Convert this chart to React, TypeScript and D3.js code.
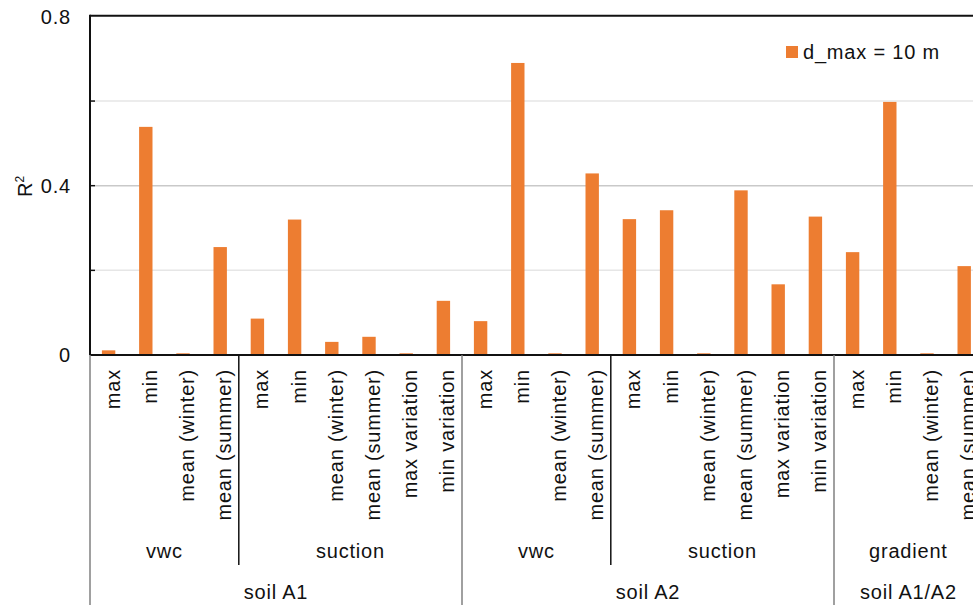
import React from "react";
import * as d3 from "d3";

const categories = [
  "max", "min", "mean (winter)", "mean (summer)",
  "max", "min", "mean (winter)", "mean (summer)", "max variation", "min variation",
  "max", "min", "mean (winter)", "mean (summer)",
  "max", "min", "mean (winter)", "mean (summer)", "max variation", "min variation",
  "max", "min", "mean (winter)", "mean (summer)",
];
const values = [
  0.011, 0.539, 0.004, 0.255,
  0.086, 0.320, 0.031, 0.043, 0.004, 0.128,
  0.080, 0.690, 0.004, 0.429,
  0.321, 0.342, 0.004, 0.389, 0.167, 0.327,
  0.243, 0.598, 0.004, 0.210,
];
const subGroups = [
  { label: "vwc", start: 0, end: 4 },
  { label: "suction", start: 4, end: 10 },
  { label: "vwc", start: 10, end: 14 },
  { label: "suction", start: 14, end: 20 },
  { label: "gradient", start: 20, end: 24 },
];
const mainGroups = [
  { label: "soil A1", start: 0, end: 10 },
  { label: "soil A2", start: 10, end: 20 },
  { label: "soil A1/A2", start: 20, end: 24 },
];
const yTicks = [0, 0.4, 0.8];
const yMinor = [0.2, 0.6];
const seriesName = "d_max = 10 m";

const W = 973;
const H = 605;
const left = 90;
const step = 37.2;
const right = left + step * categories.length;
const top = 16.4;
const bottom = 355;
const font = "'Liberation Sans', Arial, sans-serif";
const orange = "#ED7D31";
const txt: React.CSSProperties = { letterSpacing: "0.8px", fontFamily: font, fontSize: "20px" };

export default function App() {
  const x = d3
    .scaleBand<number>()
    .domain(d3.range(categories.length))
    .range([left, right])
    .paddingInner(0.64)
    .paddingOuter(0.32);
  const y = d3.scaleLinear().domain([0, 0.8]).range([bottom, top]);
  const edge = (i: number) => left + (i * (right - left)) / categories.length;

  return (
    <svg
      width={W}
      height={H}
      style={{ position: "absolute", left: 0, top: 0, background: "#fff" }}
      fontFamily={font}
    >
      {yMinor.map((t) => (
        <line key={"m" + t} x1={left + 5} x2={right} y1={y(t)} y2={y(t)} stroke="#e6e6e6" strokeWidth={1.5} />
      ))}
      <line x1={left + 5} x2={right} y1={y(0.4)} y2={y(0.4)} stroke="#c9c9c9" strokeWidth={1.5} />
      {values.map((v, i) => (
        <rect
          key={i}
          x={x(i)!}
          y={y(v)}
          width={x.bandwidth()}
          height={bottom - y(v)}
          fill={orange}
        />
      ))}
      <line x1={left} x2={right} y1={top - 0.7} y2={top - 0.7} stroke="#111" strokeWidth={2} />
      <line x1={left} x2={left} y1={top - 1.7} y2={bottom} stroke="#111" strokeWidth={2} />
      <line x1={left} x2={right} y1={bottom} y2={bottom} stroke="#111" strokeWidth={2} />
      {[0.2, 0.4, 0.6].map((t) => (
        <line key={"t" + t} x1={left} x2={left + 5} y1={y(t)} y2={y(t)} stroke="#111" strokeWidth={1.5} />
      ))}
      {yTicks.map((t) => (
        <text key={"l" + t} x={71} y={y(t) + 7.2} textAnchor="end" style={txt} fill="#111">
          {t === 0 ? "0" : t.toFixed(1)}
        </text>
      ))}
      <text transform={`translate(32,197) rotate(-90)`} style={{ ...txt, letterSpacing: "0px" }} fill="#111">
        R
        <tspan style={{ fontSize: "12px" }} dy={-8}>2</tspan>
      </text>
      {categories.map((c, i) => (
        <text
          key={"c" + i}
          transform={`translate(${x(i)! + x.bandwidth() / 2 + 4},369) rotate(-90)`}
          textAnchor="end"
          dominantBaseline="central"
          style={txt}
          fill="#111"
        >
          {c}
        </text>
      ))}
      <line x1={left} x2={left} y1={bottom} y2={H} stroke="#808080" strokeWidth={1.5} />
      {subGroups.slice(1).map((g, i) =>
        mainGroups.some((m) => m.start === g.start) ? null : (
          <line key={"s" + i} x1={edge(g.start)} x2={edge(g.start)} y1={bottom} y2={565} stroke="#111" strokeWidth={1.5} />
        )
      )}
      {mainGroups.slice(1).map((g, i) => (
        <line key={"g" + i} x1={edge(g.start)} x2={edge(g.start)} y1={bottom} y2={H} stroke="#808080" strokeWidth={1.5} />
      ))}
      {subGroups.map((g, i) => (
        <text
          key={"sg" + i}
          x={(edge(g.start) + edge(g.end)) / 2}
          y={558}
          textAnchor="middle"
          style={txt}
          fill="#111"
        >
          {g.label}
        </text>
      ))}
      {mainGroups.map((g, i) => (
        <text
          key={"mg" + i}
          x={(edge(g.start) + edge(g.end)) / 2}
          y={599}
          textAnchor="middle"
          style={txt}
          fill="#111"
        >
          {g.label}
        </text>
      ))}
      <rect x={786} y={46} width={12} height={12} fill={orange} />
      <text x={803} y={59} style={txt} fill="#111">
        {seriesName}
      </text>
    </svg>
  );
}
